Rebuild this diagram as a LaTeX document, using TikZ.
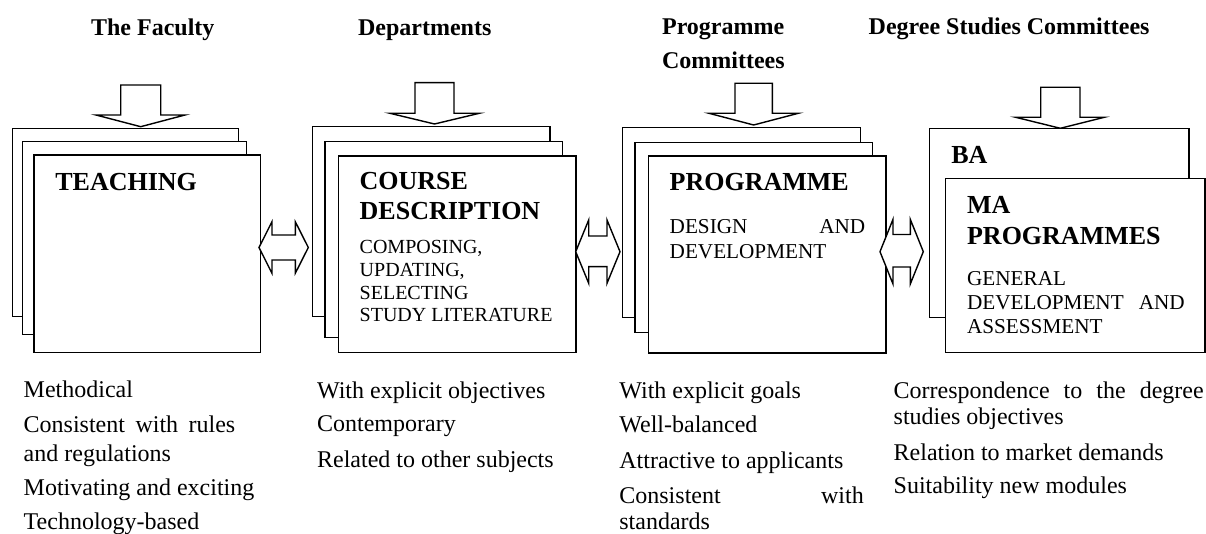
\documentclass[tikz,border=0pt]{standalone}
\usepackage{fontspec}
\setmainfont{Liberation Serif}
\newcommand\MyDownArrow[7]{% shaft-left, shaft-right, top, shoulder, wing-left, wing-right, tip-y
  \path[blockarrow] (#1,#3) -- (#2,#3) -- (#2,#4) -- (#6,#4) -- ({(#1+#2)/2},#7) -- (#5,#4) -- (#1,#4) -- cycle;}
\newcommand\MyBothArrow[7]{% x-left, x-right, centre, head-top, head-bottom, shaft-top, shaft-bottom
  \path[blockarrow] (#1,#3) -- ({#1+13},#4) -- ({#1+13},#6) -- ({#2-13},#6) -- ({#2-13},#4) -- (#2,#3)
     -- ({#2-13},#5) -- ({#2-13},#7) -- ({#1+13},#7) -- ({#1+13},#5) -- cycle;}
\begin{document}
\begin{tikzpicture}[x=0.5pt,y=-0.5pt,
  card/.style={draw=black, fill=white, line width=0.7pt},
  blockarrow/.style={draw=black, fill=white, line width=0.7pt, line join=miter},
  headtxt/.style={anchor=base west, inner sep=0pt, font=\bfseries\fontsize{12}{14}\selectfont},
  titletxt/.style={anchor=base west, inner sep=0pt, font=\bfseries\fontsize{13}{15}\selectfont},
  subtxt/.style={anchor=base west, inner sep=0pt, font=\fontsize{10}{12}\selectfont},
  subtxtb/.style={anchor=base west, inner sep=0pt, font=\fontsize{10.6}{12.5}\selectfont},
  itemtxt/.style={anchor=base west, inner sep=0pt, font=\fontsize{12}{14}\selectfont}]
\useasboundingbox (0,0) rectangle (1206,534);

% ---------- headers ----------
\node[headtxt] (h1) at (90.7,36) {The Faculty};
\node[headtxt] (h2) at (357.7,36) {Departments};
\node[headtxt] (h3a) at (661.7,35) {Programme};
\node[headtxt] (h3b) at (661.7,68.3) {Committees};
\node[headtxt] (h4) at (868.3,35) {Degree Studies Committees};

% ---------- down arrows ----------
\MyDownArrow{120.7}{160.7}{85}{115}{96}{185}{126.7}
\MyDownArrow{415}{454}{82.7}{113.3}{390}{479.3}{124}
\MyDownArrow{735}{772.3}{83.3}{113.3}{709}{798.3}{125}
\MyDownArrow{1040.7}{1080}{87.3}{117.3}{1015.7}{1104.3}{128.3}

% ---------- column 1 ----------
\path[card] (12.7,128.3) rectangle (238.3,316.5);
\path[card] (22.7,141.7) rectangle (246.7,334.3);
\path[card] (34,155) rectangle (260.7,352.3);
\node[titletxt] (t1) at (55,190.7) {TEACHING};

% ---------- column 2 ----------
\path[card] (312.3,126.7) rectangle (550,316.7);
\path[card] (325,141.7) rectangle (562.3,337.3);
\path[card] (338.3,156) rectangle (576,352.7);
\node[titletxt] (t2a) at (359.3,189.3) {COURSE};
\node[titletxt] (t2b) at (359.3,219.3) {DESCRIPTION};
\node[subtxt] (s2a) at (359.3,253.3) {COMPOSING,};
\node[subtxt] (s2b) at (359.3,276.7) {UPDATING,};
\node[subtxt] (s2c) at (359.3,299.3) {SELECTING};
\node[subtxt] (s2d) at (359.3,321.7) {STUDY LITERATURE};

% ---------- column 3 ----------
\path[card] (622.7,127.7) rectangle (860.7,317.7);
\path[card] (635,142.7) rectangle (872.7,332.7);
\path[card] (648.3,156) rectangle (886,353);
\node[titletxt] (t3) at (669.3,191) {PROGRAMME};
\node[subtxtb] (s3a) at (669.3,233.3) {\makebox[97.8pt][s]{DESIGN AND}};
\node[subtxtb] (s3b) at (669.3,259) {DEVELOPMENT};

% ---------- column 4 ----------
\path[card] (929.3,128.3) rectangle (1189,317.7);
\node[titletxt] (t4a) at (951,163.3) {BA};
\path[card] (945.7,178.3) rectangle (1205,352.7);
\node[titletxt] (t4b) at (966.7,214) {MA};
\node[titletxt] (t4c) at (966.7,244.3) {PROGRAMMES};
\node[subtxtb] (s4a) at (966.7,286) {GENERAL};
\node[subtxtb] (s4b) at (966.7,310) {\makebox[108.8pt][s]{DEVELOPMENT AND}};
\node[subtxtb] (s4c) at (966.7,333.3) {ASSESSMENT};

% ---------- double arrows ----------
\MyBothArrow{259}{308.3}{247.5}{221.7}{273.3}{235}{260}
\MyBothArrow{575.7}{620}{251.7}{220}{283.3}{236}{266.7}
\MyBothArrow{880}{923.3}{251.7}{219.3}{284}{234.5}{267}

% ---------- lists ----------
\node[itemtxt] (l1a) at (23.3,398) {Methodical};
\node[itemtxt] (l1b) at (23.3,433) {\makebox[105.8pt][s]{Consistent with rules}};
\node[itemtxt] (l1c) at (23.3,462) {and regulations};
\node[itemtxt] (l1d) at (23.3,495) {Motivating and exciting};
\node[itemtxt] (l1e) at (23.3,530) {Technology-based};

\node[itemtxt] (l2a) at (316.7,398.3) {With explicit objectives};
\node[itemtxt] (l2b) at (316.7,431.7) {Contemporary};
\node[itemtxt] (l2c) at (316.7,467.3) {Related to other subjects};

\node[itemtxt] (l3a) at (619,398.3) {With explicit goals};
\node[itemtxt] (l3b) at (619,432.7) {Well-balanced};
\node[itemtxt] (l3c) at (619,468.3) {Attractive to applicants};
\node[itemtxt] (l3d) at (619,503.3) {\makebox[122.2pt][s]{Consistent with}};
\node[itemtxt] (l3e) at (619,530) {standards};

\node[itemtxt] (l4a) at (893.3,398.3) {\makebox[155pt][s]{Correspondence to the degree}};
\node[itemtxt] (l4b) at (893.3,425) {studies objectives};
\node[itemtxt] (l4c) at (893.3,460) {Relation to market demands};
\node[itemtxt] (l4d) at (893.3,493.3) {Suitability new modules};
\end{tikzpicture}
\end{document}
